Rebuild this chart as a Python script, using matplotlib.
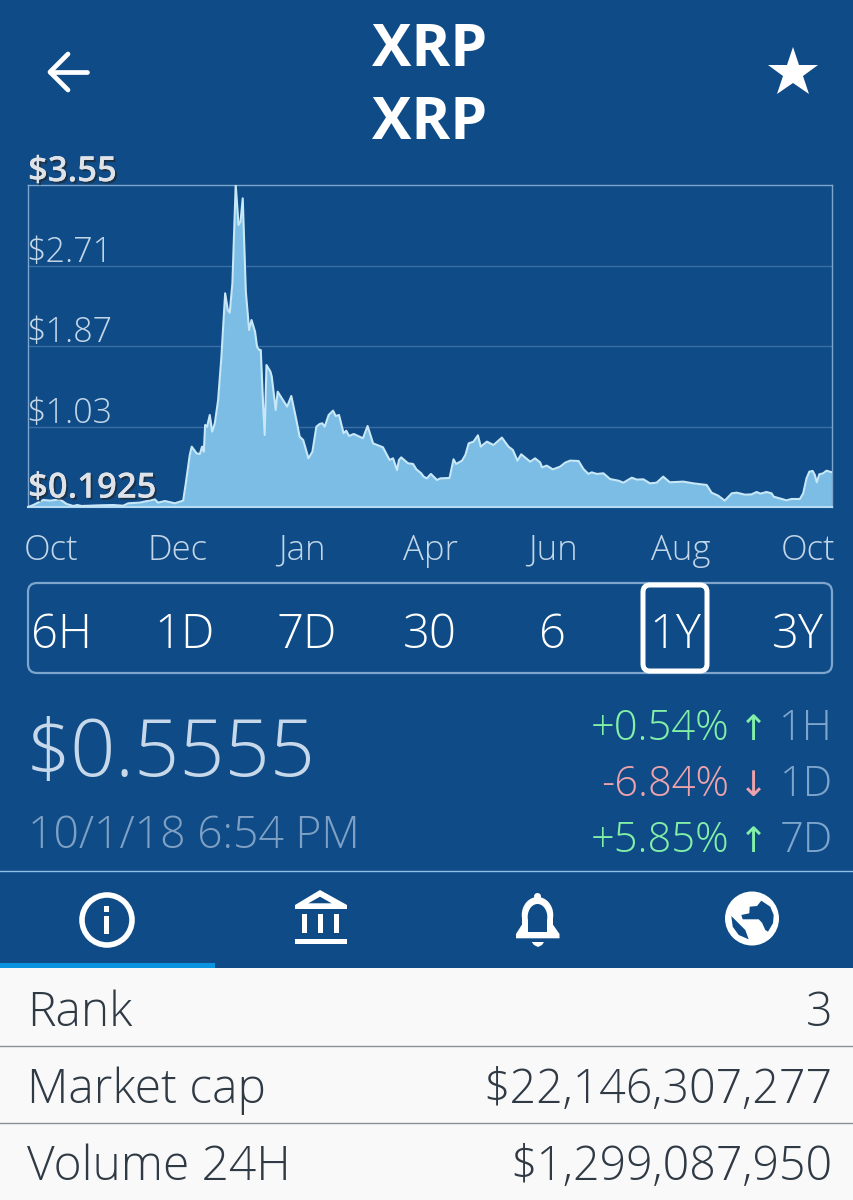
import matplotlib
matplotlib.use('Agg')
import matplotlib.pyplot as plt
import matplotlib.patheffects as pe
from matplotlib.patches import Rectangle, FancyBboxPatch, Circle, Polygon, Ellipse

BG = '#0f4c87'
FONT = 'Open Sans'

# days since the start of the 1Y window
days = [0, 2.4, 7, 10, 14.5, 17.6, 20.6, 22.4, 24.4, 32.7, 38.8, 43.3, 45.6, 50.9, 57.7, 59.2,
        62.3, 66.8, 70.6, 71.8, 73.6, 74.5, 76.7, 78.2, 79.2, 80, 80.6, 81.5, 82.7, 83.8, 85,
        86.5, 88, 89.7, 90.9, 91.8, 93, 94.5, 95.8, 96.7, 97.7, 98.5, 99.1, 100.6, 101.7, 103.3,
        104.2, 105.2, 105.9, 107, 107.7, 108.5, 110.3, 110.9, 112.7, 113.6, 117.9, 119.8, 122.1,
        123.6, 125.2, 127.6, 129.4, 131.2, 132.7, 133.9, 135, 136.8, 138.8, 140, 141.5, 143.6,
        144.8, 146.1, 148.2, 152.4, 154.5, 157, 161.5, 164.5, 166.1, 167.9, 168.8, 169.8, 172.9,
        175.2, 176.7, 178.9, 180, 181.5, 183.3, 186.1, 187.6, 191.8, 193.6, 194.8, 197.5, 199,
        200.5, 202.7, 204.7, 206, 208.8, 211.8, 215.6, 218.6, 220.6, 222.7, 224.4, 228.5, 230.7,
        233, 233.9, 236, 238.8, 242.1, 244.4, 246.7, 250.5, 252.7, 255, 256.5, 258.8, 261.8,
        264.8, 268.6, 270.9, 274.7, 277, 280, 283, 286, 289, 292, 298.2, 302.7, 308.8, 311, 314,
        317, 320.2, 322.4, 326.2, 329.2, 331.5, 333.3, 336, 338.3, 339.3, 345.1, 347.4, 351.2,
        352.7, 354.2, 355.5, 357, 358, 358.9, 360, 361.8, 363.3, 365.8]
price = [.1925, .213, .266, .259, .272, .224, .203, .213, .203, .210, .213, .206, .231, .238, .272, .238,
         .255, .231, .259, .439, .735, .822, .752, .745, .822, .769, 1.048, 1.030, 1.152, .978, 1.065,
         1.308, 1.760, 2.421, 2.247, 2.219, 2.525, 3.55, 3.133, 3.168, 3.411, 2.872, 2.438, 2.038, 2.142, 2.021,
         1.864, 1.830, 1.830, 1.239, .943, 1.673, 1.604, 1.552, 1.204, 1.395, 1.239, 1.350, 1.100,
         .926, .891, .700, .769, 1.030, 1.058, 1.065, 1.030, 1.152, 1.197, 1.141, 1.152, .961,
         .988, .933, .954, .909, 1.037, .856, .815, .683, .700, .578, .683, .710, .648,
         .641, .585, .544, .509, .491, .537, .474, .491, .495, .690, .641, .676, .735,
         .856, .874, .940, .822, .874, .839, .916, .822, .787, .676, .742, .665, .700,
         .658, .606, .624, .585, .613, .655, .676, .672, .589, .537, .554, .537, .544,
         .484, .467, .446, .498, .478, .481, .439, .446, .509, .450, .457, .439, .422, .342, .311,
         .259, .335, .342, .321, .324, .349, .332, .349, .335, .300, .262, .276, .276,
         .335, .491, .561, .568, .526, .450, .533, .544, .571, .554]

y_ticks = [3.55, 2.71, 1.87, 1.03, 0.1925]
y_labels = ['$3.55', '$2.71', '$1.87', '$1.03', '$0.1925']
month_ticks = [10.5, 68, 124.5, 183, 239, 297, 355]
month_labels = ['Oct', 'Dec', 'Jan', 'Apr', 'Jun', 'Aug', 'Oct']
ranges = ['6H', '1D', '7D', '30', '6', '1Y', '3Y']
changes = ['+0.54%', '-6.84%', '+5.85%']
change_arrows = ['↑', '↓', '↑']
change_periods = ['1H', '1D', '7D']
rows = ['Rank', 'Market cap', 'Volume 24H']
row_values = ['3', '$22,146,307,277', '$1,299,087,950']

plt.rcParams['font.family'] = [FONT, 'DejaVu Sans']
W, H = 854, 1200
fig = plt.figure(figsize=(W / 100, H / 100), dpi=100, facecolor=BG)

# whole-screen axes in pixels, for the app chrome round the chart
ui = fig.add_axes([0, 0, 1, 1], zorder=1)
ui.set_xlim(0, W)
ui.set_ylim(H, 0)
ui.axis('off')


def label(x, y, s, size, color='white', ha='center', weight=300, **kw):
    return ui.text(x, y, s, fontsize=size, color=color, ha=ha, va='baseline',
                   fontweight=weight, **kw)


label(429.5, 66, 'XRP', 42.5, weight='bold')
label(429.5, 139, 'XRP', 42.5, weight='bold')

# back arrow and star
ui.plot([87, 50], [72, 72], color='white', lw=3.4, solid_capstyle='round')
ui.plot([68, 50, 68], [54, 72, 90], color='white', lw=3.4, solid_capstyle='round', solid_joinstyle='round')
ui.plot([793], [73], marker='*', ms=38, color='white', mew=0)

# chart
ax = fig.add_axes([28 / W, 1 - 507 / H, 804 / W, 322 / H], zorder=2)
ax.set_facecolor('none')
ax.set_axisbelow(True)
ax.fill_between(days, 0.1925, price, color='#7bbde4', lw=0, zorder=2)
ax.plot(days, price, color='#c8e8f8', lw=1.5, zorder=3)
ax.set_xlim(0, 365.8)
ax.set_ylim(0.1925, 3.55)
ax.set_yticks(y_ticks[1:4])
ax.tick_params(axis='y', length=0, labelleft=False)
ax.grid(axis='y', color='#3b6fa3', lw=1, zorder=1)
ax.set_xticks(month_ticks)
ax.set_xticklabels(month_labels, fontsize=25, color='#c3d6e8', fontweight=300)
ax.tick_params(axis='x', length=0, pad=19)
for s in ax.spines.values():
    s.set_color('#7ea6cd')
    s.set_linewidth(1)
ax.spines['bottom'].set_color('#b7dcf3')
ax.spines['bottom'].set_linewidth(1.5)

for val, txt in zip(y_ticks, y_labels):
    strong = txt in ('$3.55', '$0.1925')
    dy = -3 if val == 3.55 else (1 if val == 0.1925 else -3)
    t = ax.annotate(txt, (0, val), xycoords=('axes fraction', 'data'), xytext=(0 if strong else -1.5, dy),
                    textcoords='offset points', ha='left', va='bottom', annotation_clip=False,
                    fontsize=25 if strong else 24.5, color='#dfe3e8' if strong else '#c3d6e8',
                    fontweight=600 if strong else 300, zorder=5)
    if strong:
        t.set_path_effects([pe.withSimplePatchShadow(offset=(1.5, -1.5), shadow_rgbFace='#222222', alpha=0.6),
                            pe.Normal()])

# range selector
ui.add_patch(FancyBboxPatch((28, 583), 804, 90, boxstyle='round,pad=0,rounding_size=9',
                            fc='none', ec='#7ea6cd', lw=1.6))
ui.add_patch(FancyBboxPatch((643, 585), 64, 86, boxstyle='round,pad=0,rounding_size=7',
                            fc=BG, ec='white', lw=3.6))
for x, s in zip([61, 185, 307, 430, 553, 675, 798], ranges):
    label(x, 648, s, 34)

# current price
label(26, 776, '$0.5555', 57, color='#c6d8ea', ha='left')
label(28, 848, '10/1/18 6:54 PM', 32, color='#7ea0c4', ha='left')

# change table
green, red, muted = '#83f0a8', '#eea2ac', '#7ea6cd'
for y, s, arr, per in zip([740, 796, 852], changes, change_arrows, change_periods):
    col = red if s.startswith('-') else green
    label(729, y, s, 30, color=col, ha='right')
    ui.text(753, y, arr, fontsize=25, color=col, ha='center', va='baseline', family=['Noto Sans', 'DejaVu Sans'])
    label(833, y, per, 30, color=muted, ha='right')

ui.plot([0, W], [871, 871], color='#8fc0e8', lw=1)

# info icon
ui.add_patch(Circle((107, 920), 25, fc='none', ec='white', lw=4))
ui.add_patch(Rectangle((104.5, 906), 5, 6, fc='white', lw=0))
ui.add_patch(Rectangle((104.5, 916), 5, 18, fc='white', lw=0))

# bank icon
ui.add_patch(Polygon([(320, 890), (347, 905), (347, 909), (295, 909), (295, 905)], fc='white', lw=0))
ui.add_patch(Polygon([(320, 896.7), (308.3, 903.3), (331.7, 903.3)], fc=BG, lw=0))
for x in [302.3, 318.3, 334.3]:
    ui.add_patch(Rectangle((x, 914.3), 5, 18.4, fc='white', lw=0))
ui.add_patch(Rectangle((295, 939), 52, 5, fc='white', lw=0))

# bell icon
ui.add_patch(Circle((537.5, 896.5), 3.5, fc='white', lw=0))
ui.add_patch(Ellipse((537.5, 915), 31.5, 36, fc='white', lw=0))
ui.add_patch(Rectangle((521.7, 915), 31.5, 18, fc='white', lw=0))
ui.add_patch(Polygon([(521.7, 925), (553.2, 925), (559.5, 934), (559.5, 938.3), (516, 938.3), (516, 934)],
                     fc='white', lw=0))
ui.add_patch(Ellipse((537.5, 917), 19.6, 26, fc=BG, lw=0))
ui.add_patch(Rectangle((527.7, 917), 19.6, 14.7, fc=BG, lw=0))
ui.add_patch(Polygon([(531.7, 942), (544, 942), (542, 945), (538, 947), (534, 945)], fc='white', lw=0))

# globe icon
ui.add_patch(Circle((752, 918.5), 27, fc='white', lw=0))
ui.add_patch(Polygon([(761.3, 900.7), (770.3, 906.7), (773.7, 915), (773, 923.3), (768, 931.7), (765.3, 930),
                      (762, 922.7), (758.7, 919.3), (742.7, 919.3), (741.3, 915), (749.3, 913.3),
                      (749.7, 906.7), (757, 906)], fc=BG, lw=0))
ui.add_patch(Polygon([(731.3, 916), (737, 921.7), (740.3, 925), (745.3, 930), (748.7, 939.3), (738.7, 935),
                      (732.7, 926.7)], fc=BG, lw=0))

# active tab underline and info rows
ui.add_patch(Rectangle((0, 963), 215, 5, fc='#0a94e0', lw=0))
ui.add_patch(Rectangle((0, 968), W, H - 968, fc='#f9f9fa', lw=0))
for y in [1046, 1122.5]:
    ui.plot([0, W], [y, y], color='#8a8f96', lw=1)
for y, name, val in zip([1026.5, 1103, 1180], rows, row_values):
    label(27, y, name, 34.5, color='#2f3a45', ha='left')
    label(832, y, val, 33.5, color='#2f3a45', ha='right')

fig.savefig('out.png', dpi=100, facecolor=BG)
